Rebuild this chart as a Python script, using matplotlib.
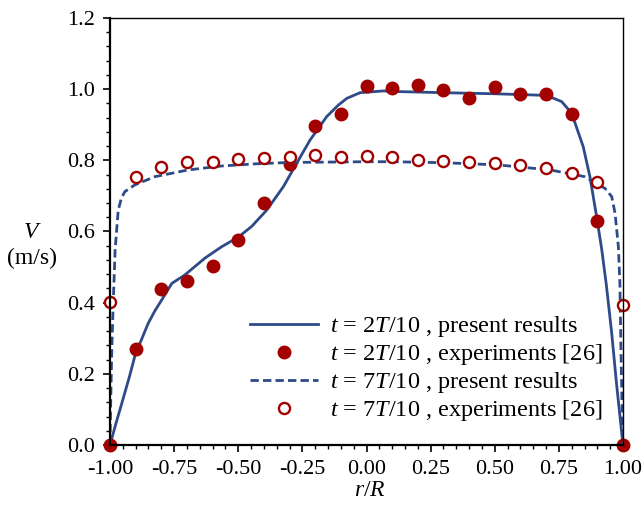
import numpy as np
import matplotlib.pyplot as plt
from matplotlib.ticker import MultipleLocator, FormatStrFormatter

plt.rcParams['font.family'] = ['Liberation Serif', 'DejaVu Serif']
plt.rcParams['mathtext.fontset'] = 'custom'
plt.rcParams['mathtext.rm'] = 'Liberation Serif'
plt.rcParams['mathtext.it'] = 'Liberation Serif:italic'

# experimental samples (every 0.1 in r/R)
r_exp = np.round(np.arange(-1.0, 1.01, 0.1), 2)
v_exp_2 = [0.0, 0.269, 0.438, 0.46, 0.503, 0.576, 0.681, 0.79, 0.897, 0.93, 1.010,
           1.002, 1.011, 0.998, 0.976, 1.005, 0.986, 0.987, 0.930, 0.630, 0.0]
v_exp_7 = [0.401, 0.752, 0.782, 0.796, 0.796, 0.803, 0.806, 0.81, 0.814, 0.81, 0.811,
           0.809, 0.801, 0.799, 0.796, 0.792, 0.786, 0.778, 0.764, 0.74, 0.392]

# computed profiles
r_num_2 = [-1.0, -0.977, -0.954, -0.925, -0.9, -0.875, -0.851, -0.825, -0.798, -0.759,
           -0.708, -0.63, -0.565, -0.5, -0.448, -0.389, -0.324, -0.272, -0.22, -0.155,
           -0.11, -0.077, -0.025, 0.066, 0.131, 0.3, 0.5, 0.676, 0.72, 0.761,
           0.8, 0.845, 0.871, 0.897, 0.917, 0.935, 0.956, 0.975, 1.0]
v_num_2 = [0.0, 0.06, 0.117, 0.19, 0.258, 0.30, 0.342, 0.377, 0.408, 0.454,
           0.478, 0.525, 0.557, 0.584, 0.614, 0.66, 0.726, 0.792, 0.857, 0.923,
           0.955, 0.974, 0.99, 0.995, 0.993, 0.99, 0.987, 0.983, 0.977, 0.965,
           0.932, 0.838, 0.754, 0.642, 0.55, 0.45, 0.314, 0.17, 0.0]

r_num_7 = [-1.0, -0.997, -0.993, -0.987, -0.98, -0.968, -0.955, -0.942, -0.903, -0.825,
           -0.695, -0.565, -0.435, -0.3, 0.0, 0.109, 0.311, 0.513, 0.716, 0.851,
           0.93, 0.956, 0.969, 0.982, 0.988, 0.992, 0.996, 1.0]
v_num_7 = [0.0, 0.13, 0.267, 0.408, 0.548, 0.66, 0.695, 0.712, 0.731, 0.754,
           0.773, 0.784, 0.79, 0.794, 0.796, 0.796, 0.793, 0.787, 0.773, 0.754,
           0.721, 0.698, 0.651, 0.557, 0.45, 0.267, 0.12, 0.0]

line_color = '#2e4a88'
dot_color = '#a30000'

fig = plt.figure(figsize=(6.44, 5.12), dpi=100)
ax = fig.add_axes([0.1708, 0.1309, 0.7966, 0.834])

ax.plot(r_num_2, v_num_2, color=line_color, lw=2.0,
        label='$t$ = 2$T$/10 , present results')
ax.plot(r_exp, v_exp_2, 'o', color=dot_color, ms=9, ls='none', clip_on=False,
        label='$t$ = 2$T$/10 , experiments [26]')
ax.plot(r_num_7, v_num_7, color=line_color, lw=2.0, ls=(0, (3, 1.5)),
        label='$t$ = 7$T$/10 , present results')
ax.plot(r_exp, v_exp_7, 'o', mfc='white', mec=dot_color, mew=1.7, ms=8,
        ls='none', clip_on=False, label='$t$ = 7$T$/10 , experiments [26]')

ax.set_xlim(-1.0, 1.0)
ax.set_ylim(0.0, 1.2)
ax.xaxis.set_major_locator(MultipleLocator(0.25))
ax.xaxis.set_minor_locator(MultipleLocator(0.05))
ax.yaxis.set_major_locator(MultipleLocator(0.2))
ax.yaxis.set_minor_locator(MultipleLocator(0.04))
ax.xaxis.set_major_formatter(FormatStrFormatter('%.2f'))
ax.yaxis.set_major_formatter(FormatStrFormatter('%.1f'))
ax.tick_params(which='major', direction='out', length=5, width=1.2, labelsize=16, pad=6)
ax.tick_params(which='minor', direction='out', length=3, width=1.0)
for side in ['left', 'bottom']:
    ax.spines[side].set_linewidth(1.6)
for side in ['top', 'right']:
    ax.spines[side].set_linewidth(1.0)

fig.text(0.05, 0.545, '$V$', fontsize=17, ha='center', va='center')
fig.text(0.05, 0.495, '(m/s)', fontsize=17, ha='center', va='center')
fig.text(0.575, 0.042, '$r$/$R$', fontsize=17, ha='center', va='center')

ax.legend(loc='upper left', bbox_to_anchor=(0.373, 0.405),
          bbox_transform=fig.transFigure, frameon=False,
          fontsize=17.5, handlelength=2.8, handletextpad=0.5, labelspacing=0.12,
          borderaxespad=0)

fig.savefig('out.png', dpi=100)
